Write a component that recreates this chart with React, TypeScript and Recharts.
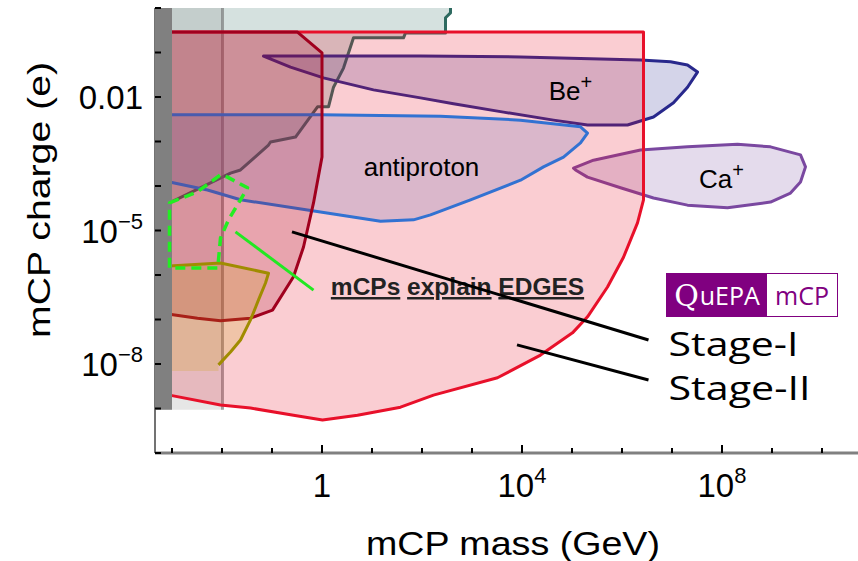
import React from 'react';
import { ComposedChart, Scatter, XAxis, YAxis } from 'recharts';

type Pt = { x: number; y: number };

// all coordinates are log10(mass / GeV) and log10(charge / e)
const massDomain = [-3.34, 10.72];
const chargeDomain = [-10, 0];
const massTicks = [-3, -2, -1, 0, 1, 2, 3, 4, 5, 6, 7, 8, 9, 10];
const chargeTicks = [-10, -9, -8, -7, -6, -5, -4, -3, -2, -1, 0];
const massTickLabels = [
  { at: 0, base: '1', exp: '' },
  { at: 4, base: '10', exp: '4' },
  { at: 8, base: '10', exp: '8' },
];
const chargeTickLabels = [
  { at: -2, base: '0.01', exp: '' },
  { at: -5, base: '10', exp: '\u22125' },
  { at: -8, base: '10', exp: '\u22128' },
];

const colliderBound: Pt[] = [
  { x: 2.57, y: 0.1 }, { x: 2.57, y: -0.11 }, { x: 2.47, y: -0.22 }, { x: 2.47, y: -0.56 },
  { x: 1.67, y: -0.56 }, { x: 1.63, y: -0.67 }, { x: 0.63, y: -0.67 }, { x: 0.43, y: -1.35 },
  { x: 0.23, y: -1.78 }, { x: 0.13, y: -2.22 }, { x: -0.09, y: -2.22 }, { x: -0.53, y: -2.9 },
  { x: -1.03, y: -3.01 }, { x: -1.07, y: -3.08 }, { x: -1.63, y: -3.64 }, { x: -1.83, y: -3.71 },
  { x: -3.05, y: -4.38 }, { x: -3.05, y: 0.1 },
];
const lowMassStrip: Pt[] = [
  { x: -1.99, y: 0.1 }, { x: -1.99, y: -9.03 }, { x: -3.4, y: -9.03 }, { x: -3.4, y: 0.1 },
];
const lowMassBand: Pt[] = [
  { x: -3.4, y: 0.1 }, { x: -3.0, y: 0.1 }, { x: -3.0, y: -9.03 }, { x: -3.4, y: -9.03 },
];
const beIonBound: Pt[] = [
  { x: -1.17, y: -1.08 }, { x: 1.97, y: -1.08 }, { x: 3.97, y: -1.1 }, { x: 6.37, y: -1.17 },
  { x: 6.97, y: -1.21 }, { x: 7.31, y: -1.28 }, { x: 7.51, y: -1.44 }, { x: 7.31, y: -1.78 },
  { x: 7.03, y: -2.13 }, { x: 6.63, y: -2.45 }, { x: 6.11, y: -2.63 }, { x: 5.31, y: -2.63 },
  { x: 4.63, y: -2.52 }, { x: 3.63, y: -2.34 }, { x: 2.63, y: -2.15 }, { x: 1.97, y: -2.02 },
  { x: 1.03, y: -1.84 }, { x: 0.03, y: -1.57 }, { x: -0.63, y: -1.33 },
];
const caIonBound: Pt[] = [
  { x: 5.03, y: -3.6 }, { x: 5.43, y: -3.42 }, { x: 6.37, y: -3.19 }, { x: 7.31, y: -3.12 },
  { x: 8.31, y: -3.06 }, { x: 8.97, y: -3.12 }, { x: 9.57, y: -3.3 }, { x: 9.67, y: -3.57 },
  { x: 9.57, y: -3.91 }, { x: 9.37, y: -4.16 }, { x: 8.97, y: -4.36 }, { x: 8.11, y: -4.49 },
  { x: 7.31, y: -4.43 }, { x: 6.63, y: -4.27 }, { x: 5.97, y: -4.04 }, { x: 5.31, y: -3.8 },
  { x: 5.07, y: -3.64 },
];
const stageTwoBound: Pt[] = [
  { x: -3.05, y: -0.54 }, { x: 6.43, y: -0.54 }, { x: 6.43, y: -4.31 }, { x: 6.31, y: -4.83 },
  { x: 6.03, y: -5.6 }, { x: 5.71, y: -6.27 }, { x: 5.31, y: -6.94 }, { x: 5.01, y: -7.3 },
  { x: 4.37, y: -7.8 }, { x: 3.51, y: -8.31 }, { x: 2.23, y: -8.7 }, { x: 1.57, y: -8.97 },
  { x: 0.71, y: -9.15 }, { x: 0.01, y: -9.26 }, { x: -0.57, y: -9.15 }, { x: -1.43, y: -8.99 },
  { x: -2.03, y: -8.92 }, { x: -3.05, y: -8.7 },
];
const antiprotonBound: Pt[] = [
  { x: -3.05, y: -2.4 }, { x: -0.03, y: -2.4 }, { x: 2.37, y: -2.43 }, { x: 3.97, y: -2.52 },
  { x: 5.17, y: -2.67 }, { x: 5.31, y: -2.81 }, { x: 5.17, y: -3.03 }, { x: 4.83, y: -3.35 },
  { x: 4.43, y: -3.57 }, { x: 3.97, y: -3.87 }, { x: 2.97, y: -4.31 }, { x: 2.17, y: -4.65 },
  { x: 1.83, y: -4.76 }, { x: 1.17, y: -4.79 }, { x: -0.29, y: -4.54 }, { x: -1.63, y: -4.31 },
  { x: -2.29, y: -4.09 }, { x: -3.05, y: -3.91 },
];
const stageOneBound: Pt[] = [
  { x: -3.05, y: -0.54 }, { x: -0.49, y: -0.54 }, { x: 0.0, y: -1.01 }, { x: 0.0, y: -3.35 },
  { x: -0.17, y: -4.38 }, { x: -0.37, y: -5.37 }, { x: -0.57, y: -6.04 }, { x: -0.99, y: -6.79 },
  { x: -1.43, y: -6.97 }, { x: -2.03, y: -7.03 }, { x: -2.49, y: -6.97 }, { x: -3.05, y: -6.88 },
];
const oliveBound: Pt[] = [
  { x: -3.05, y: -5.8 }, { x: -2.03, y: -5.73 }, { x: -1.07, y: -5.96 }, { x: -1.13, y: -6.18 },
  { x: -1.27, y: -6.56 }, { x: -1.43, y: -7.01 }, { x: -1.63, y: -7.46 }, { x: -1.83, y: -7.73 },
  { x: -2.07, y: -8.02 }, { x: -2.07, y: -8.16 }, { x: -3.05, y: -8.16 },
];
const edgesBound: Pt[] = [
  { x: -3.05, y: -4.38 }, { x: -2.49, y: -4.13 }, { x: -2.03, y: -3.75 }, { x: -1.89, y: -3.8 },
  { x: -1.49, y: -4.04 }, { x: -1.63, y: -4.31 }, { x: -1.87, y: -4.76 }, { x: -2.03, y: -5.17 },
  { x: -2.07, y: -5.66 }, { x: -2.09, y: -5.84 }, { x: -3.05, y: -5.84 },
];

const regionNotes = [
  { x: 1.99, y: -3.78, text: 'antiproton', sup: '' },
  { x: 4.97, y: -2.07, text: 'Be', sup: '+' },
  { x: 7.99, y: -4.04, text: 'Ca', sup: '+' },
];
const stageNotes = [
  { x: 6.93, y: -7.82, text: 'Stage-I', span: 130 },
  { x: 6.93, y: -8.81, text: 'Stage-II', span: 142 },
];
const edgesNote = [{ x: 2.71, y: -6.45, words: ['mCPs', 'explain', 'EDGES'] }];

const stageOnePointer: Pt[] = [{ x: -0.6, y: -5.03 }, { x: 6.53, y: -7.46 }];
const stageTwoPointer: Pt[] = [{ x: 3.9, y: -7.57 }, { x: 6.53, y: -8.36 }];
const edgesPointer: Pt[] = [{ x: -1.73, y: -5.03 }, { x: -0.17, y: -6.34 }];

const sans = '"Liberation Sans", Arial, sans-serif';

const toPath = (pts: { x: number; y: number }[]) =>
  pts.map((p, i) => `${i ? 'L' : 'M'}${p.x},${p.y}`).join('');

// polygon fill plus outline; `open` = number of trailing vertices left out of the outline
function region(fill: string, fillOpacity: number, stroke: string, width = 3, open?: number, dash?: string) {
  return (props: any) => {
    const pts = props.points || [];
    if (!pts.length) return <g />;
    const outline = open === undefined ? toPath(pts) + 'Z' : toPath(pts.slice(0, pts.length - open));
    return (
      <g>
        {fill !== 'none' && <path d={toPath(pts) + 'Z'} fill={fill} fillOpacity={fillOpacity} stroke="none" />}
        {stroke !== 'none' && (
          <path d={outline} fill="none" stroke={stroke} strokeWidth={width} strokeDasharray={dash} strokeLinejoin="round" />
        )}
      </g>
    );
  };
}

const noDot = () => <g />;

const BottomTick = (props: any) => {
  const { x, y, payload } = props;
  const lab = massTickLabels.find((t) => t.at === payload.value);
  return (
    <g>
      <line x1={x} x2={x} y1={y} y2={y - (payload.value % 4 === 0 ? 8 : 5)} stroke="#000" strokeWidth={2} />
      {lab && (
        <text x={x} y={y + 44} textAnchor="middle" fontSize={33} fontFamily={sans} fill="#000">
          {lab.base}
          {lab.exp && <tspan dy={-14} fontSize={22}>{lab.exp}</tspan>}
        </text>
      )}
    </g>
  );
};

const TopTick = (props: any) => {
  const { x, y, payload } = props;
  return <line x1={x} x2={x} y1={y} y2={y + (payload.value % 4 === 0 ? 8 : 5)} stroke="#000" strokeWidth={2} />;
};

const LeftTick = (props: any) => {
  const { x, y, payload } = props;
  const lab = chargeTickLabels.find((t) => t.at === payload.value);
  return (
    <g>
      <line x1={x} x2={x + 6} y1={y} y2={y} stroke="#000" strokeWidth={2} />
      {lab && (
        <text x={x - 12} y={y + 12} textAnchor="end" fontSize={33} fontFamily={sans} fill="#000">
          {lab.base}
          {lab.exp && <tspan dy={-14} fontSize={22}>{lab.exp}</tspan>}
        </text>
      )}
    </g>
  );
};

const RegionNote = (props: any) => {
  const { cx, cy, payload } = props;
  return (
    <text x={cx} y={cy} textAnchor="middle" fontSize={26} fontFamily={sans} fill="#000">
      {payload.text}
      {payload.sup && <tspan dy={-11} fontSize={20}>{payload.sup}</tspan>}
    </text>
  );
};

const StageNote = (props: any) => {
  const { cx, cy, payload } = props;
  return (
    <text
      x={cx}
      y={cy}
      fontSize={32}
      fontFamily='"Open Sans", "Noto Sans", sans-serif'
      fill="#000"
      textLength={payload.span}
      lengthAdjust="spacingAndGlyphs"
    >
      {payload.text}
    </text>
  );
};

const EdgesNote = (props: any) => {
  const { cx, cy, payload } = props;
  return (
    <text x={cx} y={cy} textAnchor="middle" fontSize={24.5} fontWeight="bold" fontFamily={sans} fill="#222">
      {payload.words.map((w: string, i: number) => (
        <React.Fragment key={w}>
          {i > 0 && <tspan> </tspan>}
          <tspan textDecoration="underline">{w}</tspan>
        </React.Fragment>
      ))}
    </text>
  );
};

export default function App() {
  return (
    <div style={{ position: 'absolute', left: 0, top: 0, width: 858, height: 561, background: '#fff' }}>
      <ComposedChart width={858} height={561} margin={{ top: 8, right: 0, bottom: 0, left: 0 }}>
        <XAxis
          type="number"
          dataKey="x"
          domain={massDomain}
          ticks={massTicks}
          interval={0}
          allowDataOverflow
          height={108}
          tickSize={0}
          tickMargin={0}
          tickLine={false}
          axisLine={{ stroke: '#808080', strokeWidth: 3 }}
          tick={<BottomTick />}
        />
        <XAxis
          xAxisId="top"
          orientation="top"
          type="number"
          dataKey="x"
          domain={massDomain}
          ticks={massTicks}
          interval={0}
          allowDataOverflow
          height={0}
          tickSize={0}
          tickMargin={0}
          tickLine={false}
          axisLine={{ stroke: '#808080', strokeWidth: 3 }}
          tick={<TopTick />}
        />
        <YAxis
          type="number"
          dataKey="y"
          domain={chargeDomain}
          ticks={chargeTicks}
          interval={0}
          allowDataOverflow
          width={155}
          tickSize={0}
          tickMargin={0}
          tickLine={false}
          axisLine={{ stroke: '#444', strokeWidth: 1.5 }}
          tick={<LeftTick />}
        />

        <Scatter data={colliderBound} shape={noDot} line={region('#2e6a60', 0.2, '#2e6a60', 3, 1)} isAnimationActive={false} />
        <Scatter data={lowMassStrip} shape={noDot} line={region('#808080', 0.2, 'rgba(110,110,110,0.6)', 3, 2)} isAnimationActive={false} />
        <Scatter data={beIonBound} shape={noDot} line={region('#2a2a90', 0.2, '#28288c')} isAnimationActive={false} />
        <Scatter data={caIonBound} shape={noDot} line={region('#7a4aa0', 0.2, '#7a48a0')} isAnimationActive={false} />
        <Scatter data={stageTwoBound} shape={noDot} line={region('#e8132a', 0.21, '#e8102a', 3, 0)} isAnimationActive={false} />
        <Scatter data={antiprotonBound} shape={noDot} line={region('#6a6ab0', 0.22, '#3272d2', 3, 0)} isAnimationActive={false} />
        <Scatter data={stageOneBound} shape={noDot} line={region('#a0001e', 0.2, '#a0001e', 3, 0)} isAnimationActive={false} />
        <Scatter data={oliveBound} shape={noDot} line={region('#c8a000', 0.2, '#a08c00', 3, 2)} isAnimationActive={false} />
        <Scatter data={lowMassBand} shape={noDot} line={region('#808080', 1, 'none')} isAnimationActive={false} />
        <Scatter data={edgesBound} shape={noDot} line={region('none', 0, '#22ee22', 3.5, undefined, '10 6')} isAnimationActive={false} />

        <Scatter data={regionNotes} shape={<RegionNote />} isAnimationActive={false} />
        <Scatter data={edgesNote} shape={<EdgesNote />} isAnimationActive={false} />

        {/* leader lines from the labels into their regions */}
        <Scatter data={edgesPointer} shape={noDot} line={region('none', 0, '#22e822', 3, 0)} isAnimationActive={false} />
        <Scatter data={stageOnePointer} shape={noDot} line={region('none', 0, '#000', 3, 0)} isAnimationActive={false} />
        <Scatter data={stageTwoPointer} shape={noDot} line={region('none', 0, '#000', 3, 0)} isAnimationActive={false} />

        <Scatter data={stageNotes} shape={<StageNote />} isAnimationActive={false} />
      </ComposedChart>

      <svg width={858} height={561} style={{ position: 'absolute', left: 0, top: 0, pointerEvents: 'none' }}>
        <text x={513} y={555} textAnchor="middle" fontSize={33} fontFamily={sans} textLength={294} lengthAdjust="spacingAndGlyphs">
          mCP mass (GeV)
        </text>
        <text
          transform="translate(50,200) rotate(-90)"
          textAnchor="middle"
          fontSize={32}
          fontFamily={sans}
          textLength={276}
          lengthAdjust="spacingAndGlyphs"
        >
          mCP charge (e)
        </text>
      </svg>

      <div
        style={{
          position: 'absolute',
          left: 666,
          top: 273,
          width: 172,
          height: 44,
          display: 'flex',
          boxSizing: 'border-box',
          border: '1.5px solid #800080',
          fontFamily: '"Open Sans", "Noto Sans", sans-serif',
          fontSize: 25,
        }}
      >
        <div style={{ width: 100, background: '#800080', color: '#fff', display: 'flex', alignItems: 'center', justifyContent: 'center' }}>
          <span style={{ fontSize: 30, fontFamily: '"DejaVu Serif", serif', marginRight: 1 }}>Q</span>uEPA
        </div>
        <div style={{ flex: 1, color: '#800080', display: 'flex', alignItems: 'center', justifyContent: 'center' }}>mCP</div>
      </div>
    </div>
  );
}
